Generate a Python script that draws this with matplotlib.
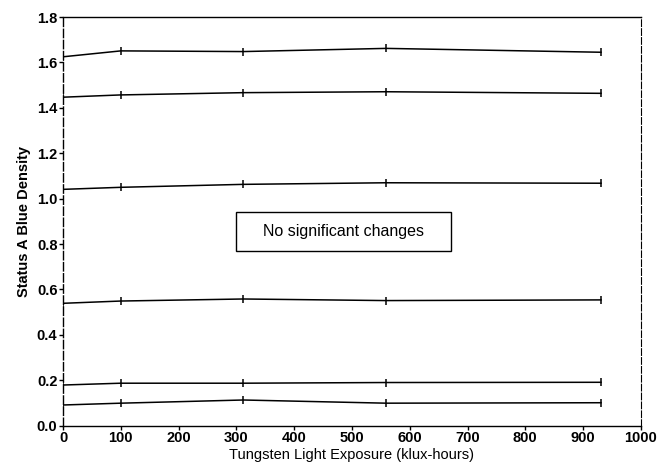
import matplotlib
matplotlib.use("Agg")
import matplotlib.pyplot as plt
from matplotlib.patches import Rectangle

exposure = [0, 100, 312, 559, 931]
d1 = [1.625, 1.651, 1.648, 1.662, 1.645]
d2 = [1.447, 1.457, 1.467, 1.471, 1.464]
d3 = [1.041, 1.050, 1.063, 1.070, 1.068]
d4 = [0.539, 0.549, 0.558, 0.551, 0.554]
d5 = [0.179, 0.187, 0.187, 0.190, 0.191]
d6 = [0.091, 0.099, 0.113, 0.099, 0.101]
series = [d1, d2, d3, d4, d5, d6]
xticks = [0, 100, 200, 300, 400, 500, 600, 700, 800, 900, 1000]
yticks = [0.0, 0.2, 0.4, 0.6, 0.8, 1.0, 1.2, 1.4, 1.6, 1.8]

plt.rcParams['font.family'] = ['Liberation Sans', 'DejaVu Sans']

fig = plt.figure(figsize=(6.6, 4.74), dpi=100)
ax = fig.add_axes([0.0955, 0.102, 0.8755, 0.862])

for s in series:
    ax.plot(exposure, s, color='black', linewidth=1.1, marker='|', markersize=6,
            markeredgewidth=1.1)

ax.set_xlim(0, 1000)
ax.set_ylim(0, 1.8)
ax.set_xticks(xticks)
ax.set_yticks(yticks)
ax.set_xticklabels([str(v) for v in xticks], fontsize=10.5, fontweight='bold')
ax.set_yticklabels([f"{v:.1f}" for v in yticks], fontsize=10.5, fontweight='bold')
ax.tick_params(direction='out', length=3, width=1, pad=1)
for sp in ax.spines.values():
    sp.set_linewidth(1.0)
ax.spines['left'].set_linestyle((0, (6, 2)))
ax.spines['right'].set_linestyle((0, (6, 2)))
ax.spines['right'].set_linewidth(0.8)

ax.set_xlabel("Tungsten Light Exposure (klux-hours)", fontsize=10.5, labelpad=2)
ax.set_ylabel("Status A Blue Density", fontsize=10.5, fontweight='bold', labelpad=4)

ax.add_patch(Rectangle((299, 0.77), 373, 0.17, facecolor='white', edgecolor='black',
                       linewidth=1.0, zorder=3))
ax.text(485, 0.857, "No significant changes", ha='center', va='center', fontsize=11.5,
        zorder=4)

fig.savefig("out.png", dpi=100)
